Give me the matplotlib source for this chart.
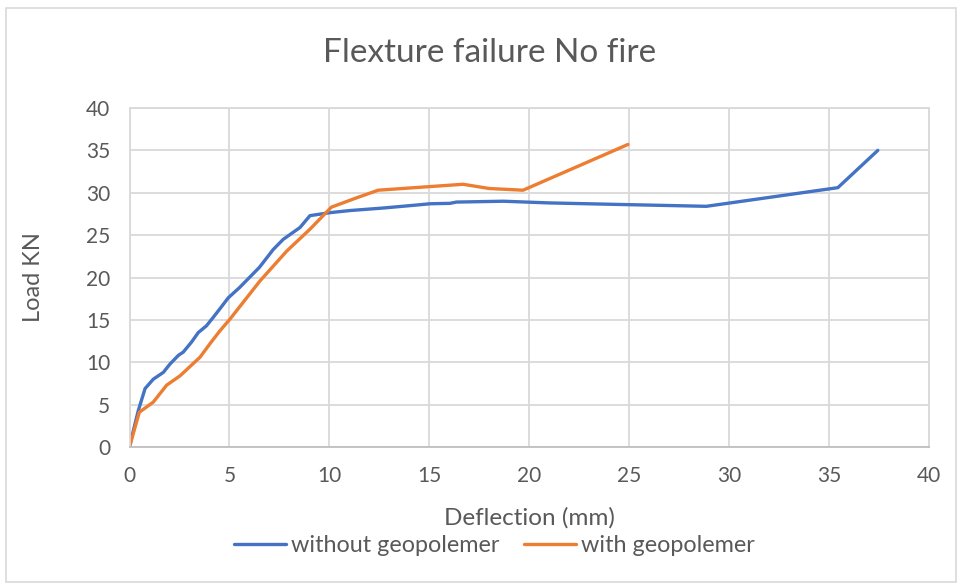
import matplotlib
matplotlib.use("Agg")
import matplotlib.pyplot as plt
from matplotlib.patches import Rectangle

plt.rcParams['font.family'] = ['Lato', 'DejaVu Sans']

title = "Flexture failure No fire"
x_label = "Deflection (mm)"
y_label = "Load KN"
series_names = ["without geopolemer", "with geopolemer"]

blue_x = [0, 0.2, 0.44, 0.78, 1.19, 1.69, 2.03, 2.44, 2.69, 3.11, 3.44, 3.85, 4.19, 4.52,
          4.94, 5.5, 6.5, 7.19, 7.69, 8.53, 9.03, 10.03, 11.03, 12.7, 14.36, 15.03, 16.03,
          16.36, 18.7, 21.0, 24.86, 28.86, 35.44, 37.44]
blue_y = [0, 2.0, 4.3, 6.9, 8.0, 8.8, 9.8, 10.8, 11.2, 12.4, 13.5, 14.3, 15.3, 16.3,
          17.6, 18.8, 21.2, 23.3, 24.5, 25.9, 27.3, 27.65, 27.9, 28.2, 28.55, 28.7, 28.75,
          28.9, 29.0, 28.8, 28.6, 28.4, 30.6, 35.0]

orange_x = [0, 0.49, 1.19, 1.86, 2.53, 3.53, 4.03, 4.52, 5.03, 6.53, 7.86, 9.03, 10.1,
            11.36, 12.44, 14.86, 16.69, 18.0, 19.69, 24.94]
orange_y = [0, 4.1, 5.3, 7.3, 8.4, 10.6, 12.2, 13.7, 15.1, 19.6, 23.1, 25.7, 28.3,
            29.4, 30.3, 30.7, 31.0, 30.5, 30.3, 35.7]

x_ticks = [0, 5, 10, 15, 20, 25, 30, 35, 40]
y_ticks = [0, 5, 10, 15, 20, 25, 30, 35, 40]

W, H = 958, 585
fig = plt.figure(figsize=(W / 100, H / 100), dpi=100)
fig.patches.append(Rectangle((6 / W, 3 / H), (W - 8) / W, (H - 11) / H,
                             transform=fig.transFigure, fill=False,
                             edgecolor='#D9D9D9', linewidth=1.2))

ax = fig.add_axes([129.5 / W, 1 - 447 / H, (929 - 129.5) / W, (447 - 108) / H])
text_color = '#595959'
grid_color = '#D9D9D9'

ax.plot(blue_x, blue_y, color='#4472C4', linewidth=2.4, label=series_names[0],
        solid_capstyle='round', solid_joinstyle='round')
ax.plot(orange_x, orange_y, color='#ED7D31', linewidth=2.4, label=series_names[1],
        solid_capstyle='round', solid_joinstyle='round')

ax.set_xlim(0, 40)
ax.set_ylim(0, 40)
ax.set_xticks(x_ticks)
ax.set_yticks(y_ticks)
ax.grid(True, color=grid_color, linewidth=1.3)
ax.set_axisbelow(True)
for s in ax.spines.values():
    s.set_color(grid_color)
    s.set_linewidth(1.3)
ax.spines['bottom'].set_color('#BFBFBF')
ax.tick_params(length=0, labelsize=15, colors=text_color)
ax.tick_params(axis='x', pad=14)
ax.tick_params(axis='y', pad=14)

ax.set_xlabel(x_label, fontsize=17.5, color=text_color, va='center')
ax.xaxis.set_label_coords(0.5, (447 - 518) / 339)
ax.set_ylabel(y_label, fontsize=17, color=text_color, va='center')
ax.yaxis.set_label_coords((33 - 129.5) / 799.5, 0.5)
fig.text(490 / W, 1 - 53 / H, title, fontsize=24, color=text_color,
         ha='center', va='center')

fig.legend(loc='center', bbox_to_anchor=(494 / W, 1 - 546 / H), ncol=2,
           frameon=False, fontsize=16.8, labelcolor=text_color,
           handlelength=2.25, handletextpad=0.2, columnspacing=1.05)

fig.savefig('out.png', dpi=100)
